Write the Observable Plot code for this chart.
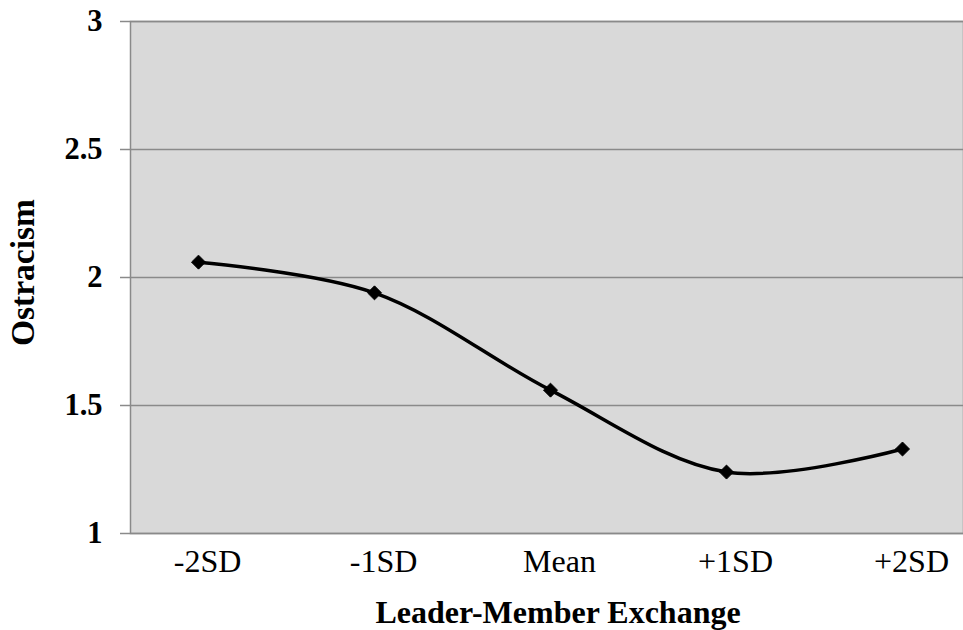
<!DOCTYPE html>
<html>
<head>
<meta charset="utf-8">
<script src="https://cdn.jsdelivr.net/npm/d3@7"></script>
<script src="https://cdn.jsdelivr.net/npm/@observablehq/plot@0.6"></script>
<style>
  html, body { margin: 0; padding: 0; background: #fff; }
  #chart svg { display: block; }
</style>
</head>
<body>
<div id="chart"></div>
<script>
const categories = ["-2SD", "-1SD", "Mean", "+1SD", "+2SD"];
const ostracism = [2.06, 1.94, 1.56, 1.24, 1.33];
const yTicks = [1, 1.5, 2, 2.5, 3];
const xTitle = "Leader-Member Exchange";
const yTitle = "Ostracism";

const data = categories.map((c, i) => ({lme: c, value: ostracism[i]}));
const font = "'Liberation Serif', 'Times New Roman', Times, serif";

const chart = Plot.plot({
  width: 963,
  height: 630,
  marginLeft: 130,
  marginRight: 0,
  marginTop: 21,
  marginBottom: 97,
  style: {fontFamily: font, fontSize: "30px", color: "#000", background: "#fff"},
  x: {type: "point", domain: categories, range: [198, 902], padding: 0, label: null},
  y: {domain: [1, 3], label: null},
  marks: [
    Plot.frame({fill: "#d9d9d9", stroke: "#8a8a8a", strokeWidth: 1.5}),
    Plot.gridY(yTicks, {stroke: "#8a8a8a", strokeOpacity: 1, strokeWidth: 1.5}),
    Plot.axisY({
      ticks: yTicks,
      tickFormat: d => String(d),
      tickSize: 10,
      tickPadding: 18,
      stroke: "#8a8a8a",
      strokeWidth: 1.5,
      fontSize: 30.5,
      fontWeight: "bold",
      fill: "#000",
      label: null
    }),
    Plot.axisX({tickSize: 0, tickPadding: 16, dx: 9, fontSize: 32, fill: "#000", label: null}),
    Plot.line(data, {x: "lme", y: "value", curve: "catmull-rom", stroke: "#000", strokeWidth: 3.5}),
    Plot.dot(data, {x: "lme", y: "value", symbol: "diamond2", r: 6.3, fill: "#000", stroke: "#000", strokeWidth: 1}),
    Plot.text([xTitle], {frameAnchor: "bottom", dy: 89, dx: 11, lineAnchor: "bottom", text: d => d, fontSize: 32, fontWeight: "bold", fill: "#000"}),
    Plot.text([yTitle], {frameAnchor: "left", dx: -97, dy: -5, rotate: -90, textAnchor: "middle", lineAnchor: "bottom", text: d => d, fontSize: 33.5, fontWeight: "bold", fill: "#000"})
  ]
});
document.getElementById("chart").appendChild(chart);
</script>
</body>
</html>
